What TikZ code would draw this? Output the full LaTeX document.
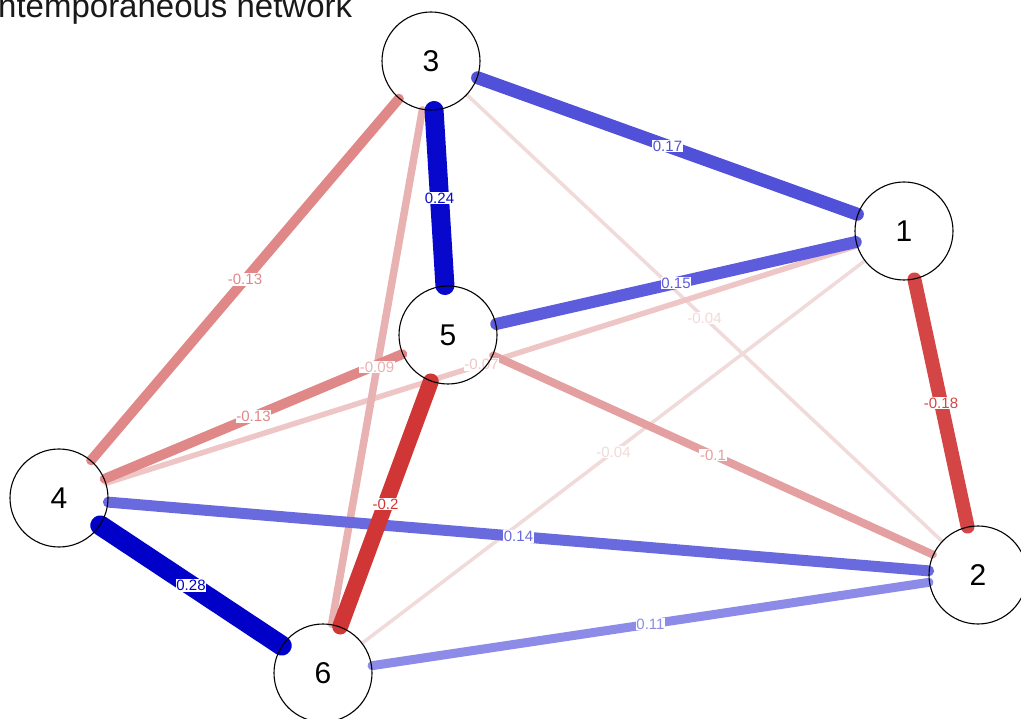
\documentclass[tikz,border=0pt]{standalone}
\usepackage{fontspec}
\setmainfont{Liberation Sans}
\pgfdeclarelayer{background}
\pgfdeclarelayer{labels}
\pgfsetlayers{background,labels,main}
\definecolor{bA}{HTML}{0000C8}
\definecolor{bB}{HTML}{0808CC}
\definecolor{bC}{HTML}{5050D8}
\definecolor{bD}{HTML}{5C5CDC}
\definecolor{bE}{HTML}{6A6ADF}
\definecolor{bF}{HTML}{8C8CE8}
\definecolor{rA}{HTML}{D03636}
\definecolor{rB}{HTML}{D44646}
\definecolor{rC}{HTML}{E08888}
\definecolor{rD}{HTML}{E4A0A0}
\definecolor{rE}{HTML}{E8B2B2}
\definecolor{rF}{HTML}{EEC6C6}
\definecolor{rG}{HTML}{F0DADA}
\newcommand\netedge[5]{%
  \begin{pgfonlayer}{background}\draw[line width=#3pt,draw=#4,line cap=round] (#1) -- (#2);\end{pgfonlayer}%
  \begin{pgfonlayer}{labels}\path (#1) -- node[elab,text=#4]{#5} (#2);\end{pgfonlayer}}
\begin{document}
\begin{tikzpicture}[x=1pt,y=-1pt,
  vtx/.style={circle,draw=black,line width=1.1pt,minimum size=98pt,inner sep=0pt,font=\fontsize{30}{30}\selectfont},
  elab/.style={fill=white,inner sep=0.8pt,font=\fontsize{15}{15}\selectfont}]
\useasboundingbox (0,0) rectangle (1021,719);
\node[anchor=base west,inner sep=0pt,text=black!90,font=\fontsize{33}{33}\selectfont] (title) at (-2,18) {ntemporaneous network};
\node[vtx] (n1) at (904,231) {1};
\node[vtx] (n2) at (978,575) {2};
\node[vtx] (n3) at (431,61) {3};
\node[vtx] (n4) at (59,498) {4};
\node[vtx] (n5) at (448,335) {5};
\node[vtx] (n6) at (323,673) {6};
\netedge{n3}{n2}{3.5}{rG}{-0.04}
\netedge{n6}{n1}{3.5}{rG}{-0.04}
\netedge{n4}{n1}{5.5}{rF}{-0.07}
\netedge{n3}{n6}{7.5}{rE}{-0.09}
\netedge{n5}{n2}{8}{rD}{-0.1}
\netedge{n6}{n2}{9}{bF}{0.11}
\netedge{n3}{n4}{10}{rC}{-0.13}
\netedge{n4}{n5}{10}{rC}{-0.13}
\netedge{n4}{n2}{11}{bE}{0.14}
\netedge{n5}{n1}{12}{bD}{0.15}
\netedge{n3}{n1}{13}{bC}{0.17}
\netedge{n1}{n2}{14}{rB}{-0.18}
\netedge{n5}{n6}{16}{rA}{-0.2}
\netedge{n3}{n5}{19}{bB}{0.24}
\netedge{n4}{n6}{20}{bA}{0.28}
\end{tikzpicture}
\end{document}
